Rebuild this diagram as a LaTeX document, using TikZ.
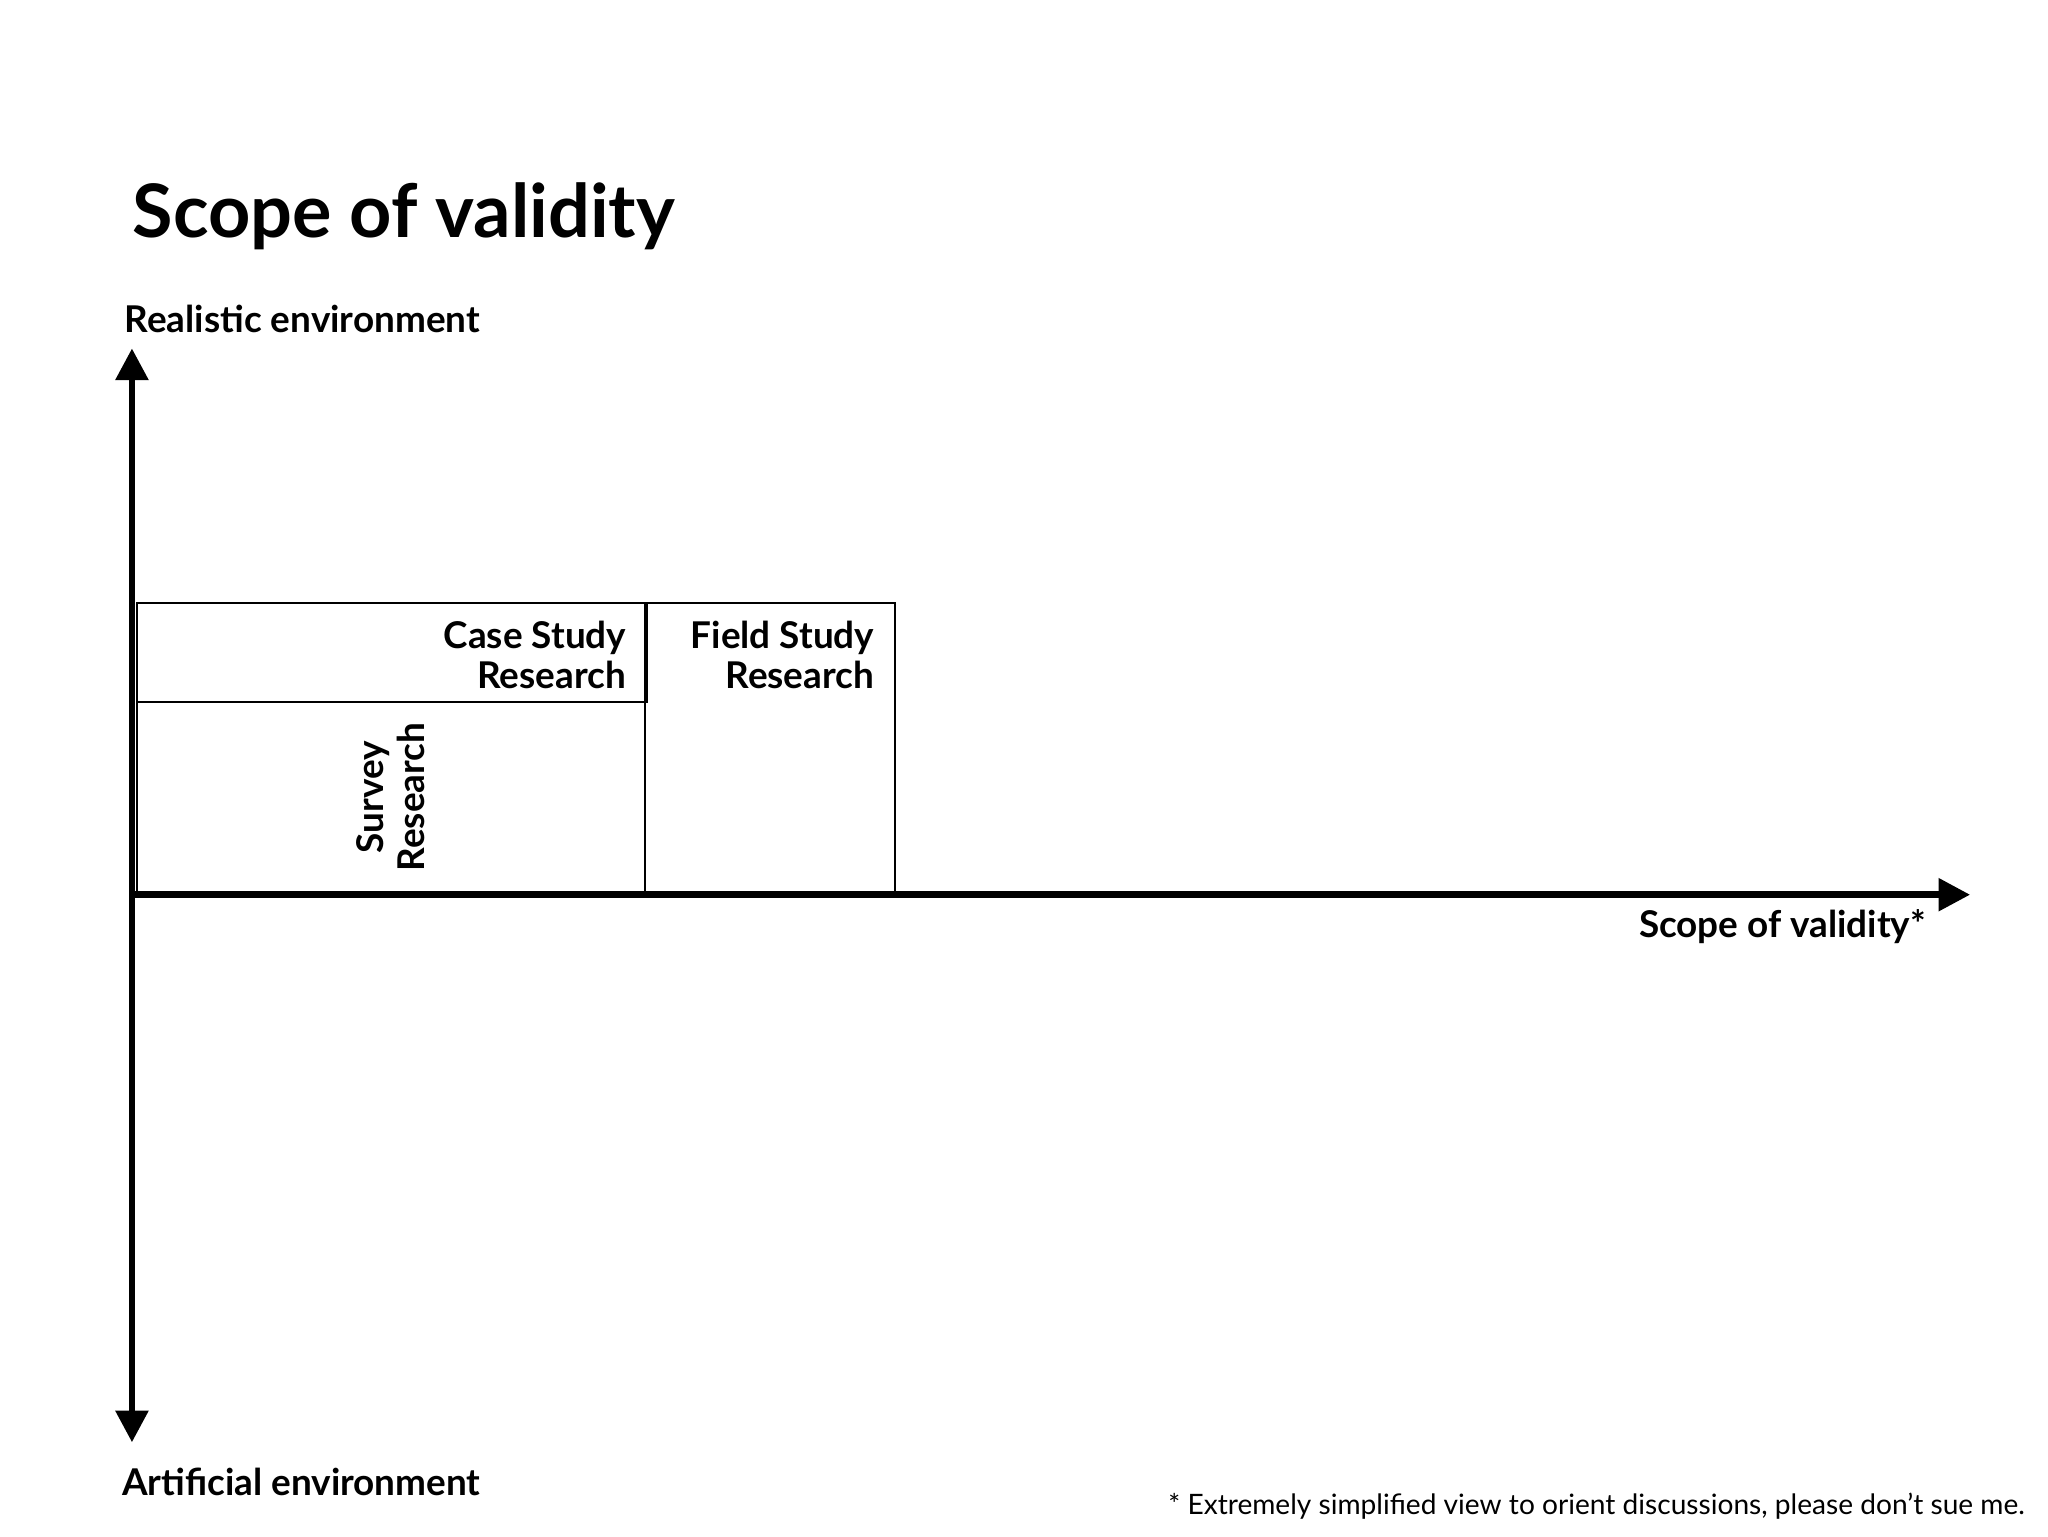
\documentclass[tikz,border=0pt]{standalone}
\usepackage{fontspec}
\setmainfont{Lato}
\usetikzlibrary{arrows.meta}
\begin{document}
\begin{tikzpicture}[x=0.013196cm,y=-0.013196cm,
  axis/.style={line width=1.9pt,-{Triangle[length=9pt,width=9pt]}},
  box/.style={draw,line width=0.6pt},
  lbl/.style={font=\bfseries\fontsize{10.5}{11.5}\selectfont,align=right,inner sep=0pt}]
\useasboundingbox (0,0) rectangle (1552,1164);
\node[anchor=base west,inner sep=0pt,font=\bfseries\fontsize{21}{24}\selectfont] (title) at (100,180) {Scope of validity};
\coordinate (o) at (100,678);
\coordinate (top) at (100,264);
\coordinate (bot) at (100,1093);
\coordinate (right) at (1493,678);
\draw[box] (104,457) rectangle (490,532);
\draw[box] (104,532) rectangle (489,676);
\draw[box] (489,457) rectangle (678,676);
\draw[axis] (o) -- (top);
\draw[axis] (o) -- (bot);
\draw[axis] (98,678) -- (right);
\node[lbl,anchor=north east] (cs) at (475,470) {Case Study\\Research};
\node[lbl,anchor=north east] (fs) at (663,470) {Field Study\\Research};
\node[lbl,align=center,rotate=90] (sr) at (296,604) {Survey\\Research};
\node[lbl,anchor=west] (re) at (94,242) {Realistic environment};
\node[lbl,anchor=west] (ae) at (92,1123) {Artificial environment};
\node[lbl,anchor=east] (sv) at (1460,702) {Scope of validity*};
\node[anchor=east,inner sep=0pt,font=\fontsize{8}{9}\selectfont] (fn) at (1535,1141) {* Extremely simplified view to orient discussions, please don’t sue me.};
\end{tikzpicture}
\end{document}
